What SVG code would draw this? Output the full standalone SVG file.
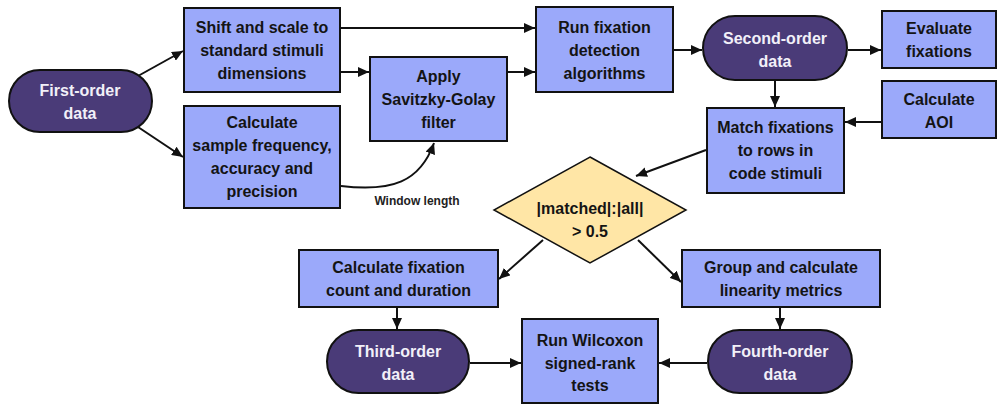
<svg xmlns="http://www.w3.org/2000/svg" width="1003" height="406" viewBox="0 0 1003 406">
  <style>
    .box { fill: #9ba9fa; stroke: #111; stroke-width: 2; }
    .pill { fill: #4a3b78; stroke: #111; stroke-width: 2; }
    .dec { fill: #ffe6a6; stroke: #111; stroke-width: 1.5; }
    .t { font-family: "Liberation Sans", Arial, sans-serif; font-weight: bold; font-size: 16px; fill: #141414; text-anchor: middle; }
    .tw { fill: #f2f0f8; }
    .lbl { font-family: "Liberation Sans", Arial, sans-serif; font-weight: bold; font-size: 12px; fill: #222; text-anchor: middle; }
    .c { fill: none; stroke: #111; stroke-width: 2; marker-end: url(#arr); }
  </style>
  <defs>
    <marker id="arr" markerUnits="userSpaceOnUse" markerWidth="11" markerHeight="10" refX="11" refY="5" orient="auto">
      <path d="M0,0 L11,5 L0,10 z" fill="#111"/>
    </marker>
  </defs>
  <rect width="1003" height="406" fill="#fff"/>

  <!-- connectors -->
  <g id="connectors">
    <line class="c" x1="138" y1="76" x2="183" y2="51"/>
    <line class="c" x1="138" y1="127" x2="183" y2="157"/>
    <line class="c" x1="341" y1="28" x2="535" y2="28"/>
    <line class="c" x1="341" y1="72" x2="369" y2="72"/>
    <line class="c" x1="508" y1="72" x2="535" y2="72"/>
    <path class="c" d="M341,186 C392,192 420,182 434,143"/>
    <line class="c" x1="674" y1="50" x2="702" y2="50"/>
    <line class="c" x1="848" y1="50" x2="881" y2="50"/>
    <line class="c" x1="775" y1="81" x2="775" y2="107"/>
    <line class="c" x1="881" y1="122" x2="845" y2="122"/>
    <line class="c" x1="706" y1="150" x2="636" y2="176"/>
    <line class="c" x1="543" y1="240" x2="499" y2="279"/>
    <line class="c" x1="638" y1="240" x2="681" y2="282"/>
    <line class="c" x1="397" y1="308" x2="397" y2="329"/>
    <line class="c" x1="780" y1="308" x2="780" y2="329"/>
    <line class="c" x1="470" y1="363" x2="521" y2="363"/>
    <line class="c" x1="707" y1="363" x2="659" y2="363"/>
  </g>
  <text class="lbl" x="417" y="205">Window length</text>

  <g id="first-order">
    <rect class="pill" x="9" y="70" width="143" height="62" rx="31"/>
    <text class="t tw" x="80" y="96">First-order</text>
    <text class="t tw" x="80" y="119">data</text>
  </g>

  <g id="shift-scale">
    <rect class="box" x="184" y="8" width="156" height="84"/>
    <text class="t" x="262" y="33">Shift and scale to</text>
    <text class="t" x="262" y="56">standard stimuli</text>
    <text class="t" x="262" y="79">dimensions</text>
  </g>

  <g id="calc-sample">
    <rect class="box" x="184" y="106" width="156" height="102"/>
    <text class="t" x="262" y="128">Calculate</text>
    <text class="t" x="262" y="151">sample frequency,</text>
    <text class="t" x="262" y="174">accuracy and</text>
    <text class="t" x="262" y="197">precision</text>
  </g>

  <g id="savitzky-golay">
    <rect class="box" x="370" y="57" width="137" height="84"/>
    <text class="t" x="438.5" y="82">Apply</text>
    <text class="t" x="438.5" y="105">Savitzky-Golay</text>
    <text class="t" x="438.5" y="128">filter</text>
  </g>

  <g id="run-fixation">
    <rect class="box" x="536" y="7" width="137" height="85"/>
    <text class="t" x="604.5" y="33">Run fixation</text>
    <text class="t" x="604.5" y="56">detection</text>
    <text class="t" x="604.5" y="79">algorithms</text>
  </g>

  <g id="second-order">
    <rect class="pill" x="703" y="16" width="144" height="64" rx="32"/>
    <text class="t tw" x="775" y="44">Second-order</text>
    <text class="t tw" x="775" y="67">data</text>
  </g>

  <g id="evaluate">
    <rect class="box" x="882" y="11" width="114" height="57"/>
    <text class="t" x="939" y="34">Evaluate</text>
    <text class="t" x="939" y="57">fixations</text>
  </g>

  <g id="calc-aoi">
    <rect class="box" x="882" y="81" width="114" height="57"/>
    <text class="t" x="939" y="105">Calculate</text>
    <text class="t" x="939" y="128">AOI</text>
  </g>

  <g id="match">
    <rect class="box" x="707" y="108" width="137" height="85"/>
    <text class="t" x="775.5" y="133">Match fixations</text>
    <text class="t" x="775.5" y="156">to rows in</text>
    <text class="t" x="775.5" y="179">code stimuli</text>
  </g>

  <g id="decision">
    <polygon class="dec" points="590,157 686,210 590,263 494,210"/>
    <text class="t" x="590" y="214">|matched|:|all|</text>
    <text class="t" x="590" y="237">&gt; 0.5</text>
  </g>

  <g id="count-duration">
    <rect class="box" x="299" y="250" width="199" height="57"/>
    <text class="t" x="398.5" y="273">Calculate fixation</text>
    <text class="t" x="398.5" y="296">count and duration</text>
  </g>

  <g id="linearity">
    <rect class="box" x="682" y="250" width="198" height="57"/>
    <text class="t" x="781" y="273">Group and calculate</text>
    <text class="t" x="781" y="296">linearity metrics</text>
  </g>

  <g id="third-order">
    <rect class="pill" x="327" y="330" width="142" height="63" rx="31.5"/>
    <text class="t tw" x="398" y="357">Third-order</text>
    <text class="t tw" x="398" y="380">data</text>
  </g>

  <g id="wilcoxon">
    <rect class="box" x="522" y="319" width="136" height="84"/>
    <text class="t" x="590" y="346">Run Wilcoxon</text>
    <text class="t" x="590" y="369">signed-rank</text>
    <text class="t" x="590" y="391">tests</text>
  </g>

  <g id="fourth-order">
    <rect class="pill" x="708" y="330" width="144" height="63" rx="31.5"/>
    <text class="t tw" x="780" y="357">Fourth-order</text>
    <text class="t tw" x="780" y="380">data</text>
  </g>
</svg>
